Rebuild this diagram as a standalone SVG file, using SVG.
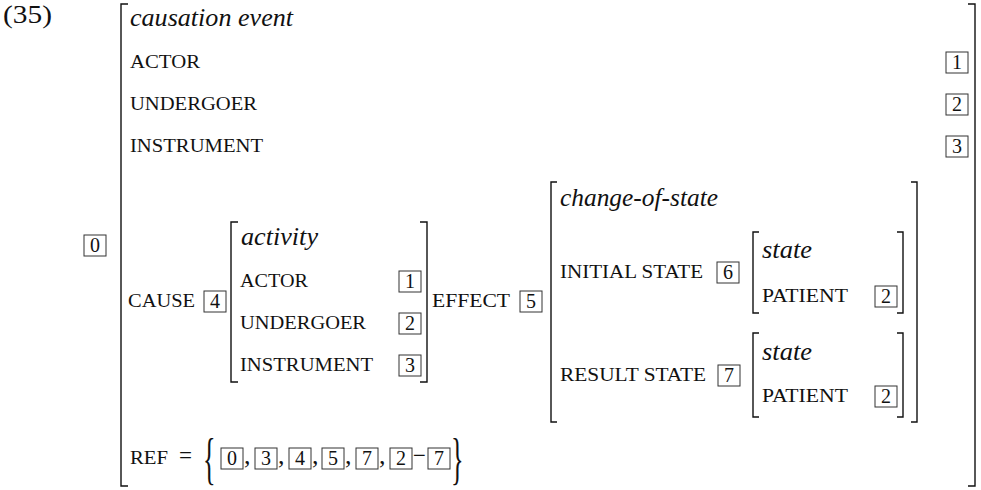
<svg xmlns="http://www.w3.org/2000/svg" width="981" height="490" viewBox="0 0 981 490">
<style>
text{font-family:"Liberation Serif","Times New Roman",serif;fill:#111}
.it{font-style:italic;font-size:26px}
.sc{font-size:18px}
.rm{font-size:26px}
.brace{font-size:58px}
.n{font-size:20px;text-anchor:middle}
.bx{fill:none;stroke:#333;stroke-width:1}
.br{fill:none;stroke:#111;stroke-width:1.4}
</style>
<rect width="981" height="490" fill="#fff"/>
<text class="rm" x="3" y="23" textLength="49" lengthAdjust="spacingAndGlyphs">(35)</text>

<g id="outer-avm">
  <path class="br" d="M128,4 H121 V486 H128"/>
  <path class="br" d="M968,4 H975 V486 H968"/>
  <g id="tag0"><rect class="bx" x="84" y="235" width="22" height="21"/><text class="n" x="95" y="252">0</text></g>
  <text class="it" x="130" y="26" textLength="163" lengthAdjust="spacingAndGlyphs">causation event</text>
  <text class="sc" x="130" y="68" textLength="70" lengthAdjust="spacingAndGlyphs">ACTOR</text>
  <text class="sc" x="130" y="110" textLength="127" lengthAdjust="spacingAndGlyphs">UNDERGOER</text>
  <text class="sc" x="130" y="152" textLength="133" lengthAdjust="spacingAndGlyphs">INSTRUMENT</text>
  <rect class="bx" x="946" y="52" width="22" height="21"/><text class="n" x="957" y="69">1</text>
  <rect class="bx" x="946" y="94" width="22" height="21"/><text class="n" x="957" y="111">2</text>
  <rect class="bx" x="946" y="136" width="22" height="21"/><text class="n" x="957" y="153">3</text>
  <text class="sc" x="128" y="307" textLength="67" lengthAdjust="spacingAndGlyphs">CAUSE</text>
  <rect class="bx" x="204" y="291" width="22" height="21"/><text class="n" x="215" y="308">4</text>
  <text class="sc" x="432" y="307" textLength="78" lengthAdjust="spacingAndGlyphs">EFFECT</text>
  <rect class="bx" x="520" y="291" width="22" height="21"/><text class="n" x="531" y="308">5</text>
</g>

<g id="activity-avm">
  <path class="br" d="M238,222 H231 V382 H238"/>
  <path class="br" d="M420,222 H427 V382 H420"/>
  <text class="it" x="241" y="245" textLength="77" lengthAdjust="spacingAndGlyphs">activity</text>
  <text class="sc" x="240" y="287" textLength="68" lengthAdjust="spacingAndGlyphs">ACTOR</text>
  <text class="sc" x="240" y="329" textLength="126" lengthAdjust="spacingAndGlyphs">UNDERGOER</text>
  <text class="sc" x="240" y="371" textLength="133" lengthAdjust="spacingAndGlyphs">INSTRUMENT</text>
  <rect class="bx" x="399" y="271" width="22" height="21"/><text class="n" x="410" y="288">1</text>
  <rect class="bx" x="399" y="313" width="22" height="21"/><text class="n" x="410" y="330">2</text>
  <rect class="bx" x="399" y="355" width="22" height="21"/><text class="n" x="410" y="372">3</text>
</g>

<g id="change-of-state-avm">
  <path class="br" d="M557,182 H551 V422 H557"/>
  <path class="br" d="M911,182 H917 V422 H911"/>
  <text class="it" x="560" y="206" textLength="158" lengthAdjust="spacingAndGlyphs">change-of-state</text>
  <text class="sc" x="560" y="278" textLength="143" lengthAdjust="spacingAndGlyphs">INITIAL STATE</text>
  <rect class="bx" x="717" y="262" width="22" height="21"/><text class="n" x="728" y="279">6</text>
  <text class="sc" x="560" y="381" textLength="146" lengthAdjust="spacingAndGlyphs">RESULT STATE</text>
  <rect class="bx" x="718" y="365" width="22" height="21"/><text class="n" x="729" y="382">7</text>
</g>

<g id="initial-state-avm">
  <path class="br" d="M759,232 H753 V313 H759"/>
  <path class="br" d="M897,232 H903 V313 H897"/>
  <text class="it" x="762" y="258" textLength="50" lengthAdjust="spacingAndGlyphs">state</text>
  <text class="sc" x="762" y="302" textLength="86" lengthAdjust="spacingAndGlyphs">PATIENT</text>
  <rect class="bx" x="875" y="286" width="22" height="21"/><text class="n" x="886" y="303">2</text>
</g>

<g id="result-state-avm">
  <path class="br" d="M759,333 H753 V417 H759"/>
  <path class="br" d="M897,333 H903 V417 H897"/>
  <text class="it" x="762" y="360" textLength="50" lengthAdjust="spacingAndGlyphs">state</text>
  <text class="sc" x="762" y="402" textLength="86" lengthAdjust="spacingAndGlyphs">PATIENT</text>
  <rect class="bx" x="875" y="386" width="22" height="21"/><text class="n" x="886" y="403">2</text>
</g>

<g id="ref-row">
  <text class="sc" x="130" y="464" textLength="38" lengthAdjust="spacingAndGlyphs">REF</text>
  <text class="rm" x="179" y="464" textLength="13" lengthAdjust="spacingAndGlyphs">=</text>
  <text class="brace" x="0" y="0" transform="translate(203,477.5) scale(0.45,1)">{</text>
  <rect class="bx" x="221" y="448" width="22" height="21"/><text class="n" x="232" y="465">0</text>
  <text class="rm" x="244" y="464">,</text>
  <rect class="bx" x="255" y="448" width="22" height="21"/><text class="n" x="266" y="465">3</text>
  <text class="rm" x="278" y="464">,</text>
  <rect class="bx" x="289" y="448" width="22" height="21"/><text class="n" x="300" y="465">4</text>
  <text class="rm" x="312" y="464">,</text>
  <rect class="bx" x="322" y="448" width="22" height="21"/><text class="n" x="333" y="465">5</text>
  <text class="rm" x="345" y="464">,</text>
  <rect class="bx" x="356" y="448" width="22" height="21"/><text class="n" x="367" y="465">7</text>
  <text class="rm" x="379" y="464">,</text>
  <rect class="bx" x="390" y="448" width="22" height="21"/><text class="n" x="401" y="465">2</text>
  <text class="rm" x="413" y="464" font-size="28" textLength="13" lengthAdjust="spacingAndGlyphs">−</text>
  <rect class="bx" x="428" y="448" width="22" height="21"/><text class="n" x="439" y="465">7</text>
  <text class="brace" x="0" y="0" transform="translate(451,477.5) scale(0.45,1)">}</text>
</g>
</svg>
